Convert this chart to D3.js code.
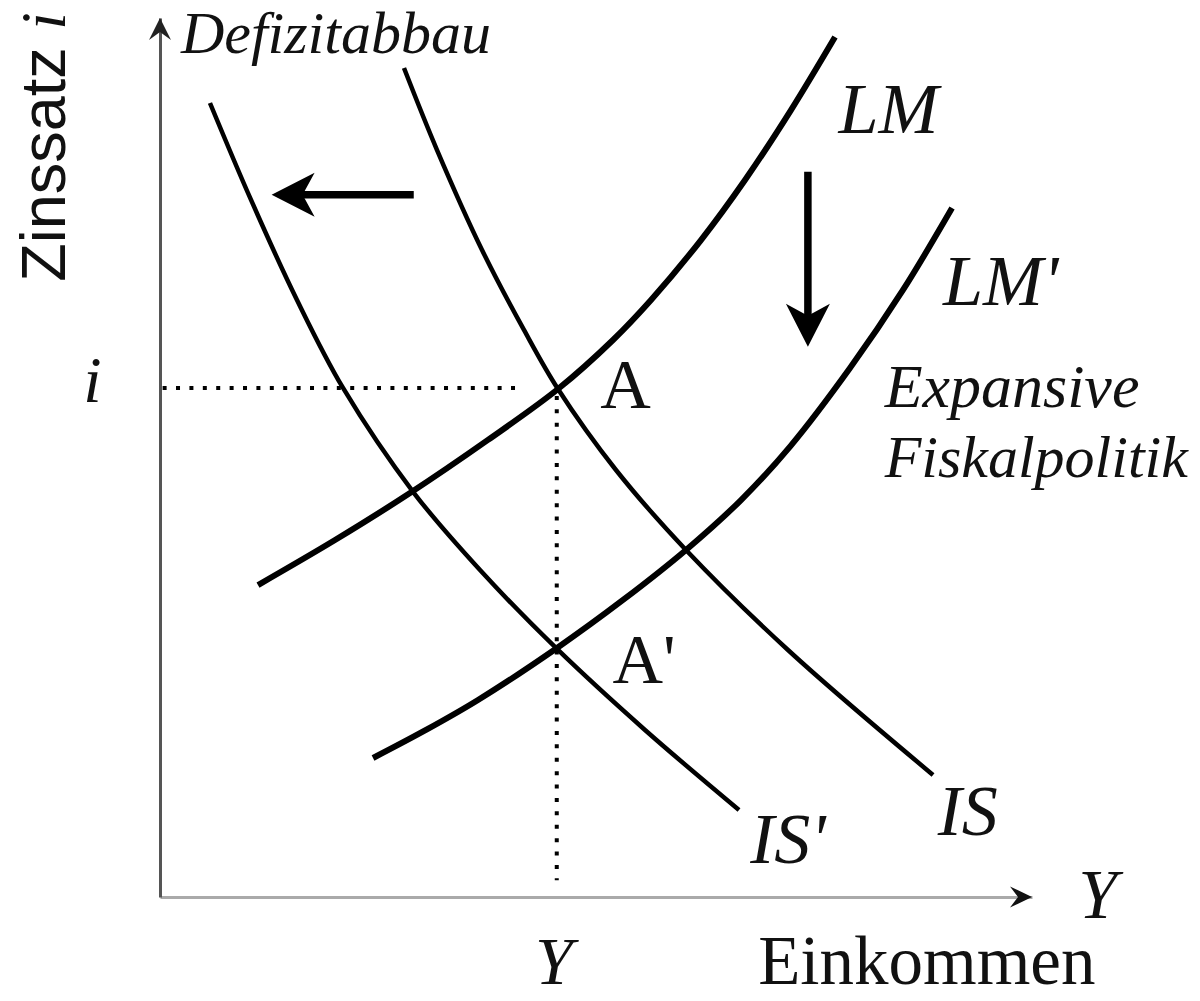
<!DOCTYPE html>
<html>
<head>
<meta charset="UTF-8">
<title>IS-LM: Defizitabbau und expansive Geldpolitik</title>
<script src="https://d3js.org/d3.v7.min.js"></script>
<style>
  body { margin: 0; background: #fff; }
</style>
</head>
<body>
<script>
    // curves in model units: income Y (0..100), interest rate i (0..100)
    const isCurve = [[27.98, 94.31], [31.77, 84.98], [36.93, 73.61], [41.74, 64.51], [45.64, 57.79],
                     [52.29, 48.58], [60.32, 39.48], [72.02, 28.10], [88.65, 13.88]];
    const isPrime = [[5.73, 90.33], [10.44, 79.30], [15.71, 67.92], [20.99, 57.91], [29.13, 45.96],
                     [36.70, 37.20], [45.41, 28.33], [55.62, 19.00], [66.40, 9.90]];
    const lmCurve = [[11.24, 35.49], [20.07, 40.61], [28.67, 45.96], [37.61, 52.00], [45.64, 57.79],
                     [51.95, 63.37], [56.31, 67.92], [62.04, 74.74], [67.09, 81.57], [72.36, 89.53], [77.41, 97.84]];
    const lmPrime = [[24.43, 15.81], [30.50, 19.00], [36.47, 22.41], [45.53, 28.33], [53.10, 33.79],
                     [60.32, 39.48], [66.63, 45.16], [72.30, 51.30], [79.13, 60.18], [85.21, 69.06], [90.83, 78.38]];

    // equilibrium A and guide lines
    const eqY = 45.5, eqI = 57.9;
    const guideH = [[0.3, eqI], [41.7, eqI]];
    const guideV = [[eqY, 57.0], [eqY, 1.9]];

    // shift arrows [from, to]
    const shiftIS = [[29.1, 79.9], [12.8, 79.9]];
    const shiftLM = [[74.3, 82.5], [74.3, 62.6]];

    const width = 1200, height = 1001;
    const x = d3.scaleLinear().domain([0, 100]).range([160, 1032]);
    const y = d3.scaleLinear().domain([0, 100]).range([897, 18]);

    const svg = d3.select("body").append("svg")
        .attr("width", width).attr("height", height);

    const serif = "'Liberation Serif', 'Times New Roman', serif";
    const sans = "'Liberation Sans', Arial, sans-serif";

    // axes (no ticks, just the lines)
    svg.append("g")
        .attr("transform", `translate(0, ${y(0)})`)
        .call(d3.axisBottom(x).tickValues([]).tickSizeOuter(0))
        .select(".domain").attr("stroke", "#aaa").attr("stroke-width", 3);
    svg.append("g")
        .attr("transform", `translate(${x(0)}, 0)`)
        .call(d3.axisLeft(y).tickValues([]).tickSizeOuter(0))
        .select(".domain").attr("stroke", "#555").attr("stroke-width", 3);

    function head(tx, ty, dx, dy, len, half, notch) {
        const nx = -dy, ny = dx;
        const bx = tx - dx * len, by = ty - dy * len;
        const p = d3.path();
        p.moveTo(tx, ty);
        p.lineTo(bx + nx * half, by + ny * half);
        p.lineTo(tx - dx * (len - notch), ty - dy * (len - notch));
        p.lineTo(bx - nx * half, by - ny * half);
        p.closePath();
        return p.toString();
    }

    svg.append("path").attr("d", head(x(100), y(0), 1, 0, 22, 10.5, 8)).attr("fill", "#111");
    svg.append("path").attr("d", head(x(0), y(100), 0, -1, 22, 11, 8)).attr("fill", "#222");

    // guide lines
    const line = d3.line().x(d => x(d[0])).y(d => y(d[1]));
    [guideH, guideV].forEach(g => {
        svg.append("path").attr("d", line(g))
            .attr("fill", "none").attr("stroke", "#000")
            .attr("stroke-width", 4).attr("stroke-dasharray", "4,9.4");
    });

    // IS / LM curves
    const smooth = d3.line().x(d => x(d[0])).y(d => y(d[1])).curve(d3.curveCatmullRom.alpha(0.5));
    [[isCurve, 4.5], [isPrime, 4.5], [lmCurve, 6], [lmPrime, 6]].forEach(([pts, w]) => {
        svg.append("path").attr("d", smooth(pts))
            .attr("fill", "none").attr("stroke", "#000")
            .attr("stroke-width", w).attr("stroke-linecap", "butt");
    });

    // shift arrows
    [shiftIS, shiftLM].forEach(([a, b]) => {
        const x1 = x(a[0]), y1 = y(a[1]), x2 = x(b[0]), y2 = y(b[1]);
        const L = Math.hypot(x2 - x1, y2 - y1), dx = (x2 - x1) / L, dy = (y2 - y1) / L;
        svg.append("line")
            .attr("x1", x1).attr("y1", y1)
            .attr("x2", x2 - dx * 30).attr("y2", y2 - dy * 30)
            .attr("stroke", "#000").attr("stroke-width", 7.5);
        svg.append("path").attr("d", head(x2, y2, dx, dy, 43, 22, 12)).attr("fill", "#000");
    });

    // labels
    const labels = [
        ["Defizitabbau", 2.4, 96.0, 60, "italic"],
        ["LM", 77.8, 86.9, 72, "italic"],
        ["LM'", 89.8, 67.3, 72, "italic"],
        ["Expansive", 83.1, 55.7, 62, "italic"],
        ["Fiskalpolitik", 83.1, 47.8, 60, "italic"],
        ["A", 50.5, 55.6, 70, "normal"],
        ["A'", 51.9, 24.3, 70, "normal"],
        ["IS'", 67.7, 3.9, 72, "italic"],
        ["IS", 89.2, 7.1, 72, "italic"],
        ["Y", 105.3, -2.4, 70, "italic"],
        ["Y", 43.0, -9.9, 68, "italic"],
        ["Einkommen", 68.6, -9.9, 69, "normal"],
        ["i", -8.8, 56.3, 66, "italic"]
    ];
    svg.selectAll("text.lbl").data(labels).enter().append("text")
        .attr("class", "lbl")
        .attr("x", d => x(d[1])).attr("y", d => y(d[2]))
        .attr("font-family", serif).attr("font-size", d => d[3])
        .attr("font-style", d => d[4])
        .attr("fill", "#111")
        .text(d => d[0]);

    // vertical axis title
    const yt = svg.append("text")
        .attr("transform", `translate(${x(-10.9)}, ${y(70.0)}) rotate(-90)`)
        .attr("font-family", sans).attr("font-size", 63).attr("fill", "#111");
    yt.append("tspan").text("Zinssatz ");
    yt.append("tspan").attr("font-family", serif).attr("font-style", "italic").text("i");
</script>
</body>
</html>
